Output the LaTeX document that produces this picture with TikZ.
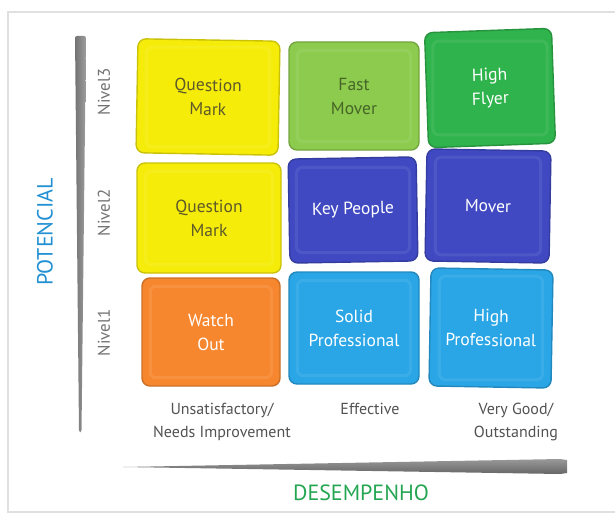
\documentclass[tikz,border=0pt]{standalone}
\usepackage{fontspec}
\setmainfont{PT Sans}
\usepackage{tikz}
\usetikzlibrary{positioning}

\definecolor{qyellow}{HTML}{F6EC0A}
\definecolor{lgreen}{HTML}{8DCB4E}
\definecolor{dgreen}{HTML}{2FB34C}
\definecolor{indigo}{HTML}{4049C2}
\definecolor{sky}{HTML}{2AA6E6}
\definecolor{orng}{HTML}{F7872F}
\definecolor{potblue}{HTML}{2290D2}
\definecolor{desgreen}{HTML}{23A552}

\tikzset{
  cell/.style={fill=#1, draw=#1!82!black, line width=1.4pt, rounded corners=8pt,
    align=center, text=white, font=\fontsize{17.5}{24}\selectfont},
  nivel/.style={rotate=90, text=black!55, font=\fontsize{17}{19}\selectfont},
  perf/.style={align=center, text=black!68, font=\fontsize{16}{23}\selectfont},
  axislabel/.style={font=\fontsize{22}{24}\selectfont},
}

\begin{document}
\begin{tikzpicture}[x=1pt,y=-1pt]
\useasboundingbox (0,0) rectangle (615,519);
% frame
\draw[black!12, line width=1.5pt] (620,12) -- (8,12) -- (8,512) -- (620,512);

% axes
\shade[left color=black!55, right color=black!38, rounded corners=2pt]
  (75,36) -- (86,36) -- (81.5,432) -- (79,432) -- cycle;
\shade[top color=black!40, bottom color=black!60]
  (123,467) -- (560,459) -- (567,460) -- (567,473) -- (560,474) -- cycle;

% cells, row by row
\node[cell=qyellow, text=black!45!olive, minimum width=142pt, minimum height=114pt, rotate=-1] (qm3) at (208,97) {Question\\Mark};
\node[cell=lgreen, text=black!50!lgreen, minimum width=130pt, minimum height=108pt] (fm) at (354,96) {Fast\\Mover};
\node[cell=dgreen, minimum width=127pt, minimum height=115pt, rotate=2] (hf) at (490,88) {High\\Flyer};

\node[cell=qyellow, text=black!45!olive, minimum width=144pt, minimum height=110pt] (qm2) at (209,218) {Question\\Mark};
\node[cell=indigo, minimum width=128pt, minimum height=104pt, rotate=1] (kp) at (353,210) {Key People};
\node[cell=indigo, minimum width=124pt, minimum height=112pt, rotate=-1] (mv) at (488,206) {Mover};

\node[cell=orng, minimum width=138pt, minimum height=108pt] (wo) at (211,332) {Watch\\Out};
\node[cell=sky, minimum width=130pt, minimum height=112pt] (sp) at (354,328) {Solid\\Professional};
\node[cell=sky, minimum width=122pt, minimum height=118pt, rotate=-1] (hp) at (491,328) {High\\Professional};

% marker streaks inside the cells
\foreach \c in {qm3,fm,hf,qm2,kp,mv,wo,sp,hp}
  \draw[white, opacity=.08, line width=3pt, rounded corners=6pt]
    ([shift={(9,9)}]\c.north west) rectangle ([shift={(-9,-9)}]\c.south east);

% level labels
\node[nivel] (n3) at (104,92) {Nivel3};
\node[nivel] (n2) at (104,213) {Nivel2};
\node[nivel] (n1) at (104,333) {Nivel1};
\node[axislabel, rotate=90, text=potblue] (pot) at (45,232) {POTENCIAL};

% performance labels
\node[perf] (unsat) at (222,422) {Unsatisfactory/\\Needs Improvement};
\node[perf, anchor=north] (eff) at (370,400) {Effective};
\node[perf] (vgood) at (516,422) {Very Good/\\Outstanding};
\node[axislabel, text=desgreen] (des) at (361,493) {DESEMPENHO};
\end{tikzpicture}
\end{document}
